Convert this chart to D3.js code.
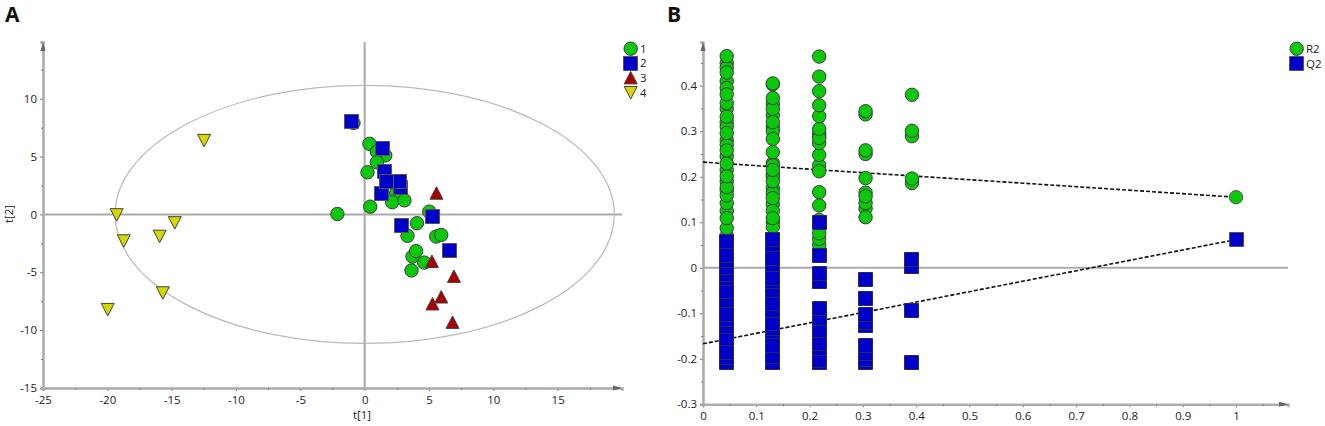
<!DOCTYPE html>
<html>
<head>
<meta charset="UTF-8">
<title>Score plot and permutation plot</title>
<style>
	body { margin: 0; background: white; }
	svg { display: block; }
	text { font-family: "Open Sans", "Noto Sans", sans-serif; font-size: 11.5px; fill: #222; }
	.panel { font-family: "Open Sans", sans-serif; font-size: 21px; font-weight: 700; fill: #111; }
	.axis path, .axis line, .zero { stroke: #aaa; }
	.axis path { stroke-width: 2; fill: none; }
	.axis line { stroke: #777; }
	.zero { stroke-width: 2; fill: none; }
</style>
</head>
<body>
<svg id="chart" width="1325" height="426"></svg>
<script src="https://d3js.org/d3.v7.min.js"></script>
<script>
	// Panel A : score plot, [t1, t2]
	let group1 = [[-0.87,7.91],[0.37,6.10],[1.6,5.1],[0.95,5.41],[0.95,4.5],[0.22,3.64],[0.43,0.67],[-2.12,0.04],[2.45,1.85],[2.14,1.05],[3.09,1.22],[5.02,0.24],[4.06,-0.76],[3.33,-1.85],[5.56,-1.91],[5.95,-1.77],[3.72,-3.64],[4.0,-3.17],[4.63,-4.16],[3.64,-4.84]];
	let group2 = [[-1.0,8.03],[1.42,5.71],[1.52,3.72],[2.76,2.34],[2.71,2.83],[1.34,1.79],[1.67,2.83],[5.3,-0.19],[2.86,-0.93],[6.59,-3.09]];
	let group3 = [[5.58,1.83],[5.23,-4.07],[6.94,-5.36],[5.95,-7.14],[5.27,-7.74],[6.83,-9.33]];
	let group4 = [[-12.48,6.40],[-19.27,-0.02],[-18.72,-2.28],[-15.93,-1.88],[-14.76,-0.71],[-15.69,-6.77],[-19.97,-8.21]];
	let legendA = ["1", "2", "3", "4"];
	let ellipseA = {rx: 19.4, ry: 11.15};
	let ticksAx = [-25,-20,-15,-10,-5,0,5,10,15];
	let minorAx = [-22.5,-17.5,-12.5,-7.5,-2.5,2.5,7.5,12.5,17.5];
	let ticksAy = [-15,-10,-5,0,5,10];
	let minorAy = [-12.5,-7.5,-2.5,2.5,7.5,12.5];

	// Panel B : permutation plot, one x position per column
	let columnsB = [0.0445, 0.131, 0.218, 0.305, 0.392];
	let r2Cols = [
		[.45,.44,.41,.395,.35,.32,.31,.28,.27,.245,.215,.19,.17,.125,.07,.05,.03,.087,.109,.142,.159,.177,.201,.229,.258,.296,.332,.362,.381,.429,.465],
		[.403,.36,.335,.31,.30,.23,.225,.205,.2,.175,.165,.14,.125,.1,.09,.109,.153,.19,.215,.254,.283,.32,.349,.373,.405],
		[.05,.0635,.0756,.105,.295,.29,.225,.137,.166,.212,.248,.274,.285,.305,.333,.357,.388,.42,.464],
		[.13,.142,.165,.157,.197,.25,.258,.337,.344,.111],
		[.186,.196,.289,.301,.38]
	];
	let q2Cols = [
		[-.209,-.198,-.187,-.156,-.129,-.114,-.103,-.073,-.053,-.023,-.015,.0015,.016,.027,.058],
		[-.209,-.195,-.171,-.141,-.134,-.123,-.094,-.078,-.050,-.030,-.024,.0074,.021,.051,.062],
		[-.209,-.204,-.177,-.167,-.138,-.112,-.0886,-.030,-.0117,.027,.099],
		[-.209,-.202,-.1875,-.171,-.127,-.12,-.103,-.0666,-.0255],
		[-.209,-.095,.002,.018]
	];
	let permX = 1;
	let permR2 = 0.155;
	let permQ2 = 0.062;
	let fitR2 = [[0,0.232],[1,0.155]];
	let fitQ2 = [[0,-0.167],[1,0.062]];
	let legendB = ["R2", "Q2"];
	let ticksBx = [0,.1,.2,.3,.4,.5,.6,.7,.8,.9,1];
	let minorBx = [.05,.15,.25,.35,.45,.55,.65,.75,.85,.95,1.05];
	let ticksBy = [-.3,-.2,-.1,0,.1,.2,.3,.4];
	let minorBy = [-.25,-.15,-.05,.05,.15,.25,.35,.45];

	let svg = d3.select("#chart");

	let colors = {green: "#0ac80a", blue: "#0000c8", red: "#a80000", yellow: "#d6d600"};

	let symbols = {
		circle: "M-6.7,0A6.7,6.7 0 1,1 6.7,0A6.7,6.7 0 1,1 -6.7,0Z",
		square: "M-7,-7H7V7H-7Z",
		up: "M0,-6.5L6.5,6L-6.5,6Z",
		down: "M0,6.5L6.5,-6L-6.5,-6Z"
	};

	function drawMarks(g, data, shape, fill, stroke) {
		// squares sit on half pixels so a stacked column keeps straight sides
		let snap = shape == "square" ? (v => Math.floor(v) + .5) : (v => v);
		g.append("g").selectAll("path")
			.data(data)
			.enter()
			.append("path")
			.attr("d", symbols[shape])
			.attr("transform", d => "translate(" + snap(d[0]) + "," + snap(d[1]) + ")")
			.attr("fill", fill)
			.attr("stroke", stroke)
			.attr("stroke-width", 1);
	}

	// axes, zero lines and arrow heads are the same on both panels
	function drawFrame(x, y, ticksX, minorX, ticksY, minorY, fmt) {
		let g = svg.append("g");
		let x0 = x.range()[0], x1 = x.range()[1];
		let y0 = y.range()[0], y1 = y.range()[1];

		g.append("line").attr("class", "zero")
			.attr("x1", x0).attr("x2", x1).attr("y1", y(0)).attr("y2", y(0));

		g.append("g").attr("class", "axis")
			.attr("transform", "translate(0," + y0 + ")")
			.call(d3.axisBottom(x).tickValues(ticksX).tickSizeOuter(0).tickSize(3).tickPadding(5).tickFormat(fmt));
		g.append("g").attr("class", "axis")
			.attr("transform", "translate(0," + y0 + ")")
			.call(d3.axisBottom(x).tickValues(minorX).tickSizeOuter(0).tickSize(2).tickFormat(""));
		g.append("g").attr("class", "axis")
			.attr("transform", "translate(" + x0 + ",0)")
			.call(d3.axisLeft(y).tickValues(ticksY).tickSizeOuter(0).tickSize(3).tickPadding(3).tickFormat(fmt));
		g.append("g").attr("class", "axis")
			.attr("transform", "translate(" + x0 + ",0)")
			.call(d3.axisLeft(y).tickValues(minorY).tickSizeOuter(0).tickSize(2).tickFormat(""));
		g.selectAll("text").style("font-size", "11.5px").style("font-family", "'Open Sans', sans-serif");

		g.append("path").attr("fill", "#666")
			.attr("d", "M" + x1 + "," + y0 + "l-9,-2.5v5z");
		g.append("path").attr("fill", "#666")
			.attr("d", "M" + x0 + "," + y1 + "l-2.5,9h5z");
		return g;
	}

	// ---- Panel A
	let xA = d3.scaleLinear().domain([-25, 20]).range([43, 622]);
	let yA = d3.scaleLinear().domain([-15, 14.9]).range([388, 42]);

	let frameA = drawFrame(xA, yA, ticksAx, minorAx, ticksAy, minorAy, String);

	frameA.append("line").attr("class", "zero")
		.attr("x1", xA(0)).attr("x2", xA(0)).attr("y1", yA.range()[0]).attr("y2", yA.range()[1]);

	svg.append("ellipse")
		.attr("cx", xA(0)).attr("cy", yA(0))
		.attr("rx", xA(ellipseA.rx) - xA(0))
		.attr("ry", yA(0) - yA(ellipseA.ry))
		.attr("fill", "none")
		.attr("stroke", "#b9b9b9")
		.attr("stroke-width", 1.2);

	let marksA = svg.append("g");
	let toA = d => [xA(d[0]), yA(d[1])];
	drawMarks(marksA, group1.map(toA), "circle", colors.green, "#3c3c3c");
	drawMarks(marksA, group2.map(toA), "square", colors.blue, "#555");
	drawMarks(marksA, group3.map(toA), "up", colors.red, "#444");
	drawMarks(marksA, group4.map(toA), "down", colors.yellow, "#444");

	svg.append("text").attr("x", 362).attr("y", 419).attr("text-anchor", "middle").text("t[1]");
	svg.append("text").attr("transform", "translate(13,214) rotate(-90)").attr("text-anchor", "middle").text("t[2]");
	svg.append("text").attr("class", "panel").attr("x", 5).attr("y", 22).text("A");

	let legA = svg.append("g");
	[["circle", colors.green, "#3c3c3c"], ["square", colors.blue, "#555"], ["up", colors.red, "#444"], ["down", colors.yellow, "#444"]].forEach((s, i) => {
		let ly = 48.7 + i * 14.6;
		drawMarks(legA, [[630.7, ly]], s[0], s[1], s[2]);
		legA.append("text").attr("x", 640).attr("y", ly + 4).text(legendA[i]);
	});

	// ---- Panel B
	let xB = d3.scaleLinear().domain([0, 1.0975]).range([703, 1288]);
	let yB = d3.scaleLinear().domain([-.3, .496]).range([404.3, 42]);

	drawFrame(xB, yB, ticksBx, minorBx, ticksBy, minorBy, String);

	let fitLine = d3.line().x(d => xB(d[0])).y(d => yB(d[1]));
	[fitR2, fitQ2].forEach(f => {
		svg.append("path")
			.attr("d", fitLine(f))
			.attr("fill", "none")
			.attr("stroke", "#111")
			.attr("stroke-width", 1.6)
			.attr("stroke-dasharray", "4,2");
	});

	let marksB = svg.append("g");
	columnsB.forEach((cx, i) => {
		drawMarks(marksB, r2Cols[i].map(v => [xB(cx), yB(v)]), "circle", colors.green, "#3c3c3c");
	});
	drawMarks(marksB, [[xB(permX), yB(permR2)]], "circle", colors.green, "#555");
	columnsB.forEach((cx, i) => {
		drawMarks(marksB, q2Cols[i].map(v => [xB(cx), yB(v)]), "square", colors.blue, "#2a2a5a");
	});
	drawMarks(marksB, [[xB(permX), yB(permQ2)]], "square", colors.blue, "#555");

	svg.append("text").attr("class", "panel").attr("x", 667).attr("y", 22).text("B");

	let legB = svg.append("g");
	[["circle", colors.green, "#3c3c3c"], ["square", colors.blue, "#555"]].forEach((s, i) => {
		let ly = 48.7 + i * 15;
		drawMarks(legB, [[1296.7, ly]], s[0], s[1], s[2]);
		legB.append("text").attr("x", 1306).attr("y", ly + 4).text(legendB[i]);
	});
</script>
</body>
</html>
